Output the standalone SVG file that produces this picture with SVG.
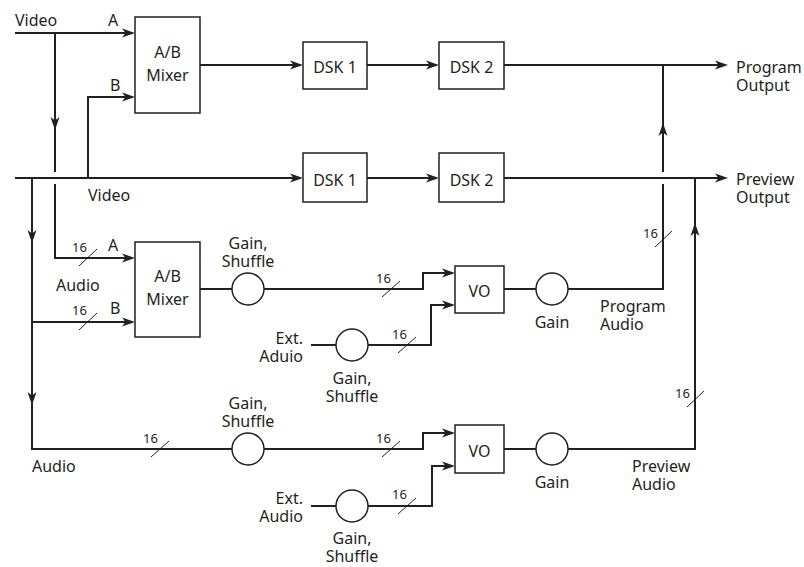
<svg xmlns="http://www.w3.org/2000/svg" width="804" height="567" viewBox="0 0 804 567">
<style>
.ln{fill:none;stroke:#231f20;stroke-width:2}
.bx{fill:#fff;stroke:#231f20;stroke-width:1.5}
.sl{fill:none;stroke:#231f20;stroke-width:1}
text{font-family:"Noto Sans",sans-serif;font-size:16px;fill:#231f20}
.c{text-anchor:middle}
.r{text-anchor:end}
.n{font-size:13px}
</style>
<defs>
<marker id="ah" viewBox="-11 -5 15 10" refX="0" refY="0" markerWidth="15" markerHeight="10" orient="auto" markerUnits="userSpaceOnUse">
<path d="M3,0 L-10,-4.5 L-6.5,0 L-10,4.5 Z" fill="#231f20"/>
</marker>
</defs>
<g id="connectors">
<path class="ln" d="M15,33 H132" marker-end="url(#ah)"/>
<path class="ln" d="M55,33 V127" marker-end="url(#ah)"/>
<path class="ln" d="M55,127 V172"/>
<path class="ln" d="M55,184 V258 H132" marker-end="url(#ah)"/>
<path class="ln" d="M88,178 V97 H132" marker-end="url(#ah)"/>
<path class="ln" d="M200,65 H300" marker-end="url(#ah)"/>
<path class="ln" d="M367,65 H436" marker-end="url(#ah)"/>
<path class="ln" d="M504,65 H725" marker-end="url(#ah)"/>
<path class="ln" d="M15,178 H300" marker-end="url(#ah)"/>
<path class="ln" d="M367,178 H436" marker-end="url(#ah)"/>
<path class="ln" d="M504,178 H725" marker-end="url(#ah)"/>
<path class="ln" d="M32,178 V240" marker-end="url(#ah)"/>
<path class="ln" d="M32,240 V402" marker-end="url(#ah)"/>
<path class="ln" d="M32,402 V449 H232"/>
<path class="ln" d="M32,322 H132" marker-end="url(#ah)"/>
<path class="ln" d="M200,289 H232"/>
<path class="ln" d="M264,289 H423 V273 H452" marker-end="url(#ah)"/>
<path class="ln" d="M311,345 H336"/>
<path class="ln" d="M368,345 H431 V305 H452" marker-end="url(#ah)"/>
<path class="ln" d="M504,289 H536"/>
<path class="ln" d="M568,289 H663 V184"/>
<path class="ln" d="M663,172 V126" marker-end="url(#ah)"/>
<path class="ln" d="M663,126 V65"/>
<path class="ln" d="M264,449 H423 V433 H452" marker-end="url(#ah)"/>
<path class="ln" d="M311,506 H336"/>
<path class="ln" d="M368,506 H432 V466 H452" marker-end="url(#ah)"/>
<path class="ln" d="M504,449 H536"/>
<path class="ln" d="M568,449 H695 V226" marker-end="url(#ah)"/>
<path class="ln" d="M695,226 V178"/>
<path class="sl" d="M79,266 L97,249 M79,330 L97,313 M382,297 L400,281 M398,353 L416,337 M655,247 L672,231 M687,407 L704,391 M151,457 L169,441 M382,457 L400,441 M398,514 L416,498"/>
<text class="n" x="72" y="252">16</text>
<text class="n" x="72" y="315">16</text>
<text class="n" x="376" y="283">16</text>
<text class="n" x="392" y="339">16</text>
<text class="n" x="643" y="238">16</text>
<text class="n" x="675" y="398">16</text>
<text class="n" x="143" y="443">16</text>
<text class="n" x="376" y="443">16</text>
<text class="n" x="392" y="499">16</text>
<text x="15" y="26">Video</text>
<text x="108" y="26">A</text>
<text x="110" y="91">B</text>
<text x="88" y="201">Video</text>
<text x="108" y="251">A</text>
<text x="110" y="314">B</text>
<text x="56" y="291">Audio</text>
<text x="32" y="472">Audio</text>
<text x="736" y="73">Program</text>
<text x="736" y="91">Output</text>
<text x="736" y="185">Preview</text>
<text x="736" y="203">Output</text>
<text x="600" y="312">Program</text>
<text x="600" y="330">Audio</text>
<text x="632" y="472">Preview</text>
<text x="632" y="490">Audio</text>
<text class="r" x="303" y="344">Ext.</text>
<text class="r" x="303" y="362">Aduio</text>
<text class="r" x="303" y="504">Ext.</text>
<text class="r" x="303" y="522">Audio</text>
</g>
<g id="mixer-video">
<rect class="bx" x="135" y="17" width="65" height="96"/>
<text class="c" x="167.5" y="58">A/B</text>
<text class="c" x="167.5" y="81">Mixer</text>
</g>
<g id="dsk1-program">
<rect class="bx" x="303" y="42" width="64" height="47"/>
<text class="c" x="335" y="73">DSK 1</text>
</g>
<g id="dsk2-program">
<rect class="bx" x="439" y="42" width="65" height="47"/>
<text class="c" x="471.5" y="73">DSK 2</text>
</g>
<g id="dsk1-preview">
<rect class="bx" x="303" y="153" width="64" height="49"/>
<text class="c" x="335" y="186">DSK 1</text>
</g>
<g id="dsk2-preview">
<rect class="bx" x="439" y="153" width="65" height="49"/>
<text class="c" x="471.5" y="186">DSK 2</text>
</g>
<g id="mixer-audio">
<rect class="bx" x="135" y="242" width="65" height="95"/>
<text class="c" x="167.5" y="282">A/B</text>
<text class="c" x="167.5" y="305">Mixer</text>
</g>
<g id="gain-shuffle-1">
<circle class="bx" cx="248" cy="289" r="16"/>
<text class="c" x="248" y="249">Gain,</text>
<text class="c" x="248" y="267">Shuffle</text>
</g>
<g id="gain-shuffle-ext1">
<circle class="bx" cx="352" cy="345" r="16"/>
<text class="c" x="352" y="384">Gain,</text>
<text class="c" x="352" y="402">Shuffle</text>
</g>
<g id="vo-program">
<rect class="bx" x="455" y="266" width="49" height="47"/>
<text class="c" x="479.5" y="297">VO</text>
</g>
<g id="gain-program">
<circle class="bx" cx="552" cy="289" r="16"/>
<text class="c" x="552" y="328">Gain</text>
</g>
<g id="gain-shuffle-2">
<circle class="bx" cx="248" cy="449" r="16"/>
<text class="c" x="248" y="409">Gain,</text>
<text class="c" x="248" y="427">Shuffle</text>
</g>
<g id="gain-shuffle-ext2">
<circle class="bx" cx="352" cy="506" r="16"/>
<text class="c" x="352" y="544">Gain,</text>
<text class="c" x="352" y="562">Shuffle</text>
</g>
<g id="vo-preview">
<rect class="bx" x="455" y="425" width="49" height="48"/>
<text class="c" x="479.5" y="457">VO</text>
</g>
<g id="gain-preview">
<circle class="bx" cx="552" cy="449" r="16"/>
<text class="c" x="552" y="488">Gain</text>
</g>
</svg>
